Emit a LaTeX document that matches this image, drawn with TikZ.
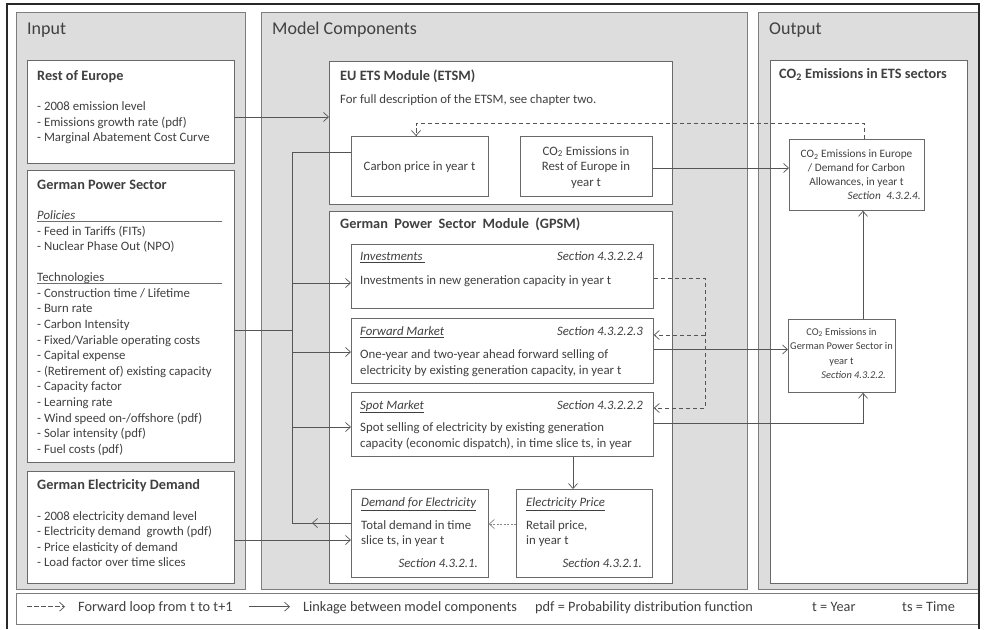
\documentclass[tikz,border=0pt]{standalone}
\usepackage{fontspec}
\setmainfont{Carlito}
\usetikzlibrary{arrows.meta,calc}
\definecolor{panelfill}{RGB}{221,221,222}
\definecolor{panelline}{RGB}{125,125,125}
\definecolor{boxline}{RGB}{105,105,105}
\definecolor{txt}{RGB}{64,64,64}
\definecolor{connc}{RGB}{85,85,85}
\definecolor{framec}{RGB}{40,40,40}
\definecolor{rulec}{RGB}{110,110,110}
\begin{document}
\begin{tikzpicture}[x=1pt,y=-1pt,
  panel/.style={draw=panelline, fill=panelfill, line width=0.9pt, anchor=north west, inner sep=0},
  wbox/.style={draw=boxline, fill=white, line width=0.8pt, anchor=north west, inner sep=0},
  ptitle/.style={anchor=base west, inner sep=0, font=\fontsize{18}{22}\selectfont, text=txt},
  hd/.style={anchor=base west, inner sep=0, font=\fontsize{14.3}{17}\selectfont\bfseries, text=txt},
  tx/.style={anchor=base west, inner sep=0, font=\fontsize{12.8}{15.6}\selectfont, text=txt},
  txr/.style={tx, anchor=base east},
  txc/.style={tx, anchor=base},
  outtx/.style={font=\fontsize{11.3}{14}\selectfont},
  outtxs/.style={font=\fontsize{10.4}{14.5}\selectfont},
  legtx/.style={tx, font=\fontsize{14.3}{17}\selectfont},
  plainline/.style={draw=connc, line width=0.7pt},
  linkline/.style={plainline, -{Straight Barb[length=5pt,width=9pt]}},
  fwdline/.style={linkline, dash pattern=on 4.5pt off 2.5pt},
  fineloop/.style={linkline, draw=connc!70, dash pattern=on 2pt off 1.5pt},
  rule/.style={draw=rulec, line width=0.7pt}
]
\useasboundingbox (0,0) rectangle (984,629);
\fill[white] (0,0) rectangle (984,629);

% panels
\node[panel, minimum width=229pt, minimum height=577pt] (pin) at (16,12) {};
\node[panel, minimum width=486pt, minimum height=577pt] (pmid) at (261,12) {};
\node[panel, minimum width=221pt, minimum height=577pt] (pout) at (758,12) {};
\node[wbox, draw=panelline, minimum width=962pt, minimum height=31pt] (legend) at (16,593) {};

% titles
\node[ptitle] (tin) at (27,34.3) {Input};
\node[ptitle] (tmid) at (272,34.3) {Model Components};
\node[ptitle] (tout) at (769,34.3) {Output};

% input boxes
\node[wbox, minimum width=207pt, minimum height=103pt] (roe) at (27,60) {};
\node[wbox, minimum width=207pt, minimum height=292pt] (gps) at (27,170) {};
\node[wbox, minimum width=207pt, minimum height=112pt] (ged) at (27,471) {};

\node[hd] (roeh) at (37,80) {Rest of Europe};
\node[tx] (roet) at (37,110.7) {\parbox[t]{195pt}{- 2008 emission level\\- Emissions growth rate (pdf)\\- Marginal Abatement Cost Curve}};

\node[hd] (gpsh) at (37,189.5) {German\ Power\ Sector};
\node[tx] (pol) at (37,219.3) {\textit{Policies}};
\draw[rule] (37,221.7) -- (222,221.7);
\node[tx] (polt) at (37,235) {\parbox[t]{195pt}{- Feed in Tariffs (FITs)\\- Nuclear Phase Out (NPO)}};
\node[tx] (tec) at (37,281.7) {Technologies};
\draw[rule] (37,283.6) -- (222,283.6);
\node[tx] (tect) at (37,297.3) {\parbox[t]{195pt}{- Construction time / Lifetime\\- Burn rate\\- Carbon Intensity\\- Fixed/Variable operating costs\\- Capital expense\\- (Retirement of) existing capacity\\- Capacity factor\\- Learning rate\\- Wind speed on-/offshore (pdf)\\- Solar intensity (pdf)\\- Fuel costs (pdf)}};

\node[hd] (gedh) at (37,489.3) {German\ Electricity\ Demand};
\node[tx] (gedt) at (37,520) {\parbox[t]{195pt}{- 2008 electricity demand level\\- Electricity demand\ \ growth (pdf)\\- Price elasticity of demand\\- Load factor over time slices}};

% ETSM
\node[wbox, minimum width=343pt, minimum height=143pt] (etsm) at (329,61) {};
\node[hd] (etsmh) at (340,80) {EU ETS Module (ETSM)};
\node[tx] (etsmt) at (340,103.7) {For full description of the ETSM, see chapter two.};
\node[wbox, minimum width=137pt, minimum height=60pt] (cp) at (351,136) {};
\node[wbox, minimum width=132pt, minimum height=60pt] (co2roe) at (520,136) {};
\node[txc] (cpt) at (419.5,170) {Carbon price in year t};
\node[txc] (co2roet) at (586,155) {\parbox[t]{130pt}{\centering CO\textsubscript{2} Emissions in\\Rest of Europe in\\year t}};

% GPSM
\node[wbox, minimum width=343pt, minimum height=372pt] (gpsm) at (329,211) {};
\node[hd] (gpsmh) at (340,228.7) {German\ \ Power\ \ Sector\ \ Module\ \ (GPSM)};
\node[wbox, minimum width=302pt, minimum height=64pt] (inv) at (351,244) {};
\node[wbox, minimum width=302pt, minimum height=65pt] (fwd) at (351,318) {};
\node[wbox, minimum width=302pt, minimum height=64pt] (spot) at (351,392) {};
\node[wbox, minimum width=137pt, minimum height=88pt] (dem) at (351,489) {};
\node[wbox, minimum width=136pt, minimum height=88pt] (price) at (516,489) {};

\node[tx] (invh) at (360,260.7) {\underline{\textit{Investments\,}}};
\node[txr] (invs) at (643,260.7) {\textit{Section 4.3.2.2.4}};
\node[tx] (invt) at (360,284) {Investments in new generation capacity in year t};
\node[tx] (fwdh) at (360,335.7) {\underline{\textit{Forward Market}}};
\node[txr] (fwds) at (643,335.7) {\textit{Section 4.3.2.2.3}};
\node[tx] (fwdt) at (360,358.5) {\parbox[t]{290pt}{One-year and two-year ahead forward selling of\\electricity by existing generation capacity, in year t}};
\node[tx] (spoth) at (360,409) {\underline{\textit{Spot Market}}};
\node[txr] (spots) at (643,409) {\textit{Section 4.3.2.2.2}};
\node[tx] (spott) at (360,431.7) {\parbox[t]{290pt}{Spot selling of electricity by existing generation\\capacity (economic dispatch), in time slice\ ts, in year}};
\node[tx] (demh) at (361,506.7) {\underline{\textit{Demand for Electricity}}};
\node[tx] (demt) at (361,529) {\parbox[t]{125pt}{Total demand in time\\slice ts, in year t}};
\node[txr] (dems) at (478,567.7) {\textit{Section 4.3.2.1.}};
\node[tx] (prch) at (526,506.7) {\underline{\textit{Electricity Price}}};
\node[tx] (prct) at (526,529) {\parbox[t]{120pt}{Retail price,\\in year t}};
\node[txr] (prcs) at (642,567.7) {\textit{Section 4.3.2.1.}};

% Output
\node[wbox, minimum width=197pt, minimum height=523pt] (ets) at (770,60) {};
\node[hd] (etsh) at (779,78.3) {CO\textsubscript{2} Emissions in ETS sectors};
\node[wbox, minimum width=135pt, minimum height=71pt] (co2eu) at (789,139) {};
\node[wbox, minimum width=107pt, minimum height=73pt] (co2de) at (788,319) {};
\node[txc, outtx] (co2eut) at (856.5,157.5) {\parbox[t]{133pt}{\centering CO\textsubscript{2} Emissions in Europe\\/ Demand for Carbon\\Allowances, in year t}};
\node[txr, outtx] (co2eus) at (921,199) {\textit{Section\hspace{0.5em}4.3.2.4.}};
\node[txc, outtxs] (co2det) at (841.5,335) {\parbox[t]{125pt}{\centering CO\textsubscript{2} Emissions in\\German Power Sector in\\year t}};
\node[txr, outtxs] (co2des) at (886,378.5) {\textit{Section 4.3.2.2.}};

% legend
\coordinate (la1) at (27,606.7);
\coordinate (la2) at (65,606.7);
\coordinate (lb1) at (249,606.7);
\coordinate (lb2) at (290,606.7);
\draw[fwdline] (la1) -- (la2);
\draw[linkline] (lb1) -- (lb2);
\node[legtx] (l1) at (78,611.5) {Forward loop from t to t+1};
\node[legtx] (l2) at (303,611.5) {Linkage between model components};
\node[legtx] (l3) at (535,611.5) {pdf = Probability distribution function};
\node[legtx] (l4) at (812,611.5) {t = Year};
\node[legtx] (l5) at (902,611.5) {ts = Time};

% connectors
\coordinate (busT) at (292,152);
\coordinate (busB) at (292,523);
\coordinate (demArr) at (312,523);
\draw[plainline] (cp.west |- busT) -- (busT) -- (busB) -- (dem.west |- busB);
\draw[linkline] (dem.west |- busB) -- (demArr);
\draw[plainline] (gps.east |- 0,330) -- (busT |- 0,330);
\draw[linkline] (busT |- 0,283) -- (inv.west |- 0,283);
\draw[linkline] (busT |- 0,352) -- (fwd.west |- 0,352);
\draw[linkline] (busT |- 0,427) -- (spot.west |- 0,427);
\draw[linkline] (roe.east |- 0,117) -- (etsm.west |- 0,117);
\draw[linkline] (ged.east |- 0,540) -- (dem.west |- 0,540);
\draw[linkline] (co2roe.east |- 0,168) -- (co2eu.west |- 0,168);
\draw[fwdline] (co2eu.north -| 864,0) -- (864,123) -- (416,123) -- (cp.north -| 416,0);
\draw[fwdline] (inv.east |- 0,278) -- (705,278) -- (705,408) -- (spot.east |- 0,408);
\draw[fwdline] (705,335) -- (fwd.east |- 0,335);
\draw[linkline] (fwd.east |- 0,349.5) -- (co2de.west |- 0,349.5);
\draw[linkline] (spot.east |- 0,423) -- (863,423) -- (co2de.south -| 863,0);
\draw[linkline] (co2de.north -| 863,0) -- (co2eu.south -| 863,0);
\draw[linkline] (spot.south -| 573,0) -- (price.north -| 573,0);
\draw[fineloop] (price.west |- 0,524) -- (dem.east |- 0,524);

% outer frame
\draw[framec, line width=1.6pt] (7,629) -- (7,4) -- (978.8,4) -- (978.8,629);
\end{tikzpicture}
\end{document}
